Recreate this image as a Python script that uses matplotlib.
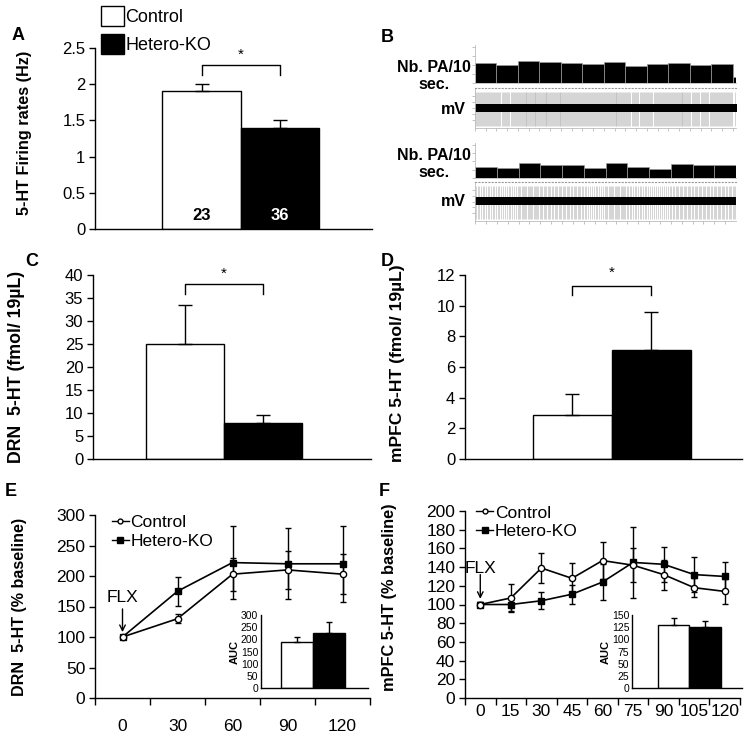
import numpy as np
import matplotlib
matplotlib.use("Agg")
import matplotlib.pyplot as plt
from matplotlib.patches import Patch
from matplotlib.lines import Line2D

plt.rcParams['font.family'] = ['Liberation Sans', 'DejaVu Sans']
plt.rcParams['axes.linewidth'] = 1.0

# ---------------- data ----------------
groups = ["Control", "Hetero-KO"]
bar_colors = ["white", "black"]

# A: firing rates
a_means = [1.9, 1.4]
a_sem = [0.1, 0.1]
a_n = ["23", "36"]
a_ticks = [0, 0.5, 1, 1.5, 2, 2.5]
a_tick_labels = ["0", "0.5", "1", "1.5", "2", "2.5"]

# B: spike counts per 10 s bin (two example neurons)
b_top_counts = [21.7, 19.4, 23.9, 22.8, 21.7, 20.6, 22.8, 18.7, 20.6, 21.7, 19.4, 20.6, 6.2]
b_bot_counts = [13.3, 12.2, 17.5, 15.6, 15.6, 12.2, 17.5, 13.3, 11.0, 16.4, 15.6, 15.6]

# C: DRN 5-HT
c_means = [25.0, 7.8]
c_sem = [8.5, 1.8]
c_ticks = [0, 5, 10, 15, 20, 25, 30, 35, 40]

# D: mPFC 5-HT
d_means = [2.85, 7.1]
d_sem = [1.4, 2.5]
d_ticks = [0, 2, 4, 6, 8, 10, 12]

# E: DRN time course
e_times = ["0", "30", "60", "90", "120"]
e_ctrl = [100, 130, 203, 210, 203]
e_ctrl_sem = [3, 7, 27, 31, 33]
e_ko = [100, 175, 222, 220, 220]
e_ko_sem = [4, 24, 60, 58, 62]
e_ticks = [0, 50, 100, 150, 200, 250, 300]
e_auc = [187, 228]
e_auc_sem = [23, 42]
e_auc_ticks = [0, 50, 100, 150, 200, 250, 300]

# F: mPFC time course
f_times = ["0", "15", "30", "45", "60", "75", "90", "105", "120"]
f_ctrl = [100, 107, 139, 128, 147, 142, 132, 118, 114]
f_ctrl_sem = [3, 15, 16, 16, 20, 18, 16, 10, 13]
f_ko = [100, 100, 104, 111, 124, 145, 143, 132, 130]
f_ko_sem = [3, 7, 9, 10, 19, 38, 19, 19, 15]
f_ticks = [0, 20, 40, 60, 80, 100, 120, 140, 160, 180, 200]
f_auc = [129, 125]
f_auc_sem = [14, 13]
f_auc_ticks = [0, 25, 50, 75, 100, 125, 150]

W, H = 751, 735
fig = plt.figure(figsize=(W / 100, H / 100), dpi=100)


def px_axes(left, top, right, bottom):
    # axes from pixel box of the reference
    return fig.add_axes([left / W, 1 - bottom / H, (right - left) / W, (bottom - top) / H])


def bar_panel(ax, means, sem, ticks, tick_labels, ylabel, xlim, label_x, label_y=0.5,
              fs=12, lfs=11, capsize=5):
    x = np.arange(len(means))
    ax.bar(x, means, width=1.0, color=bar_colors, edgecolor="black", linewidth=1.0, zorder=2)
    ax.errorbar(x, means, yerr=[np.zeros(len(sem)), sem], fmt="none", ecolor="black",
                elinewidth=1.0, capsize=capsize, capthick=1.0, zorder=3)
    ax.set_xlim(*xlim)
    ax.set_ylim(ticks[0], ticks[-1])
    ax.set_yticks(ticks)
    if tick_labels is not None:
        ax.set_yticklabels(tick_labels)
    ax.set_xticks([])
    ax.spines["top"].set_visible(False)
    ax.spines["right"].set_visible(False)
    ax.tick_params(axis="y", direction="out", length=4, width=1, labelsize=fs, pad=3)
    if ylabel:
        ax.set_ylabel(ylabel, fontsize=lfs, fontweight="bold")
        ax.yaxis.set_label_coords(label_x, label_y)


def bracket(ax, top, drop, star_y):
    ax.plot([0, 0, 1, 1], [drop, top, top, drop], color="black", lw=1.0, clip_on=False)
    ax.text(0.5, star_y, "*", ha="center", va="center", fontsize=11, clip_on=False)


# ---------------- A ----------------
axA = px_axes(95, 48, 372, 229)
bar_panel(axA, a_means, a_sem, a_ticks, a_tick_labels, "5-HT Firing rates (Hz)",
          (-1.36, 2.17), -0.227, 0.53, lfs=11.7)
bracket(axA, 2.27, 2.13, 2.40)
for i, (lab, c) in enumerate(zip(a_n, ["black", "white"])):
    axA.text(i, 0.19, lab, ha="center", va="center", color=c, fontsize=12,
             fontweight="bold", zorder=4)

leg = fig.legend(handles=[Patch(facecolor=c, edgecolor="black", linewidth=1.0, label=g)
                          for g, c in zip(groups, bar_colors)],
                 loc="upper left", bbox_to_anchor=(101 / W, 1 - 6 / H), frameon=False,
                 fontsize=13, handlelength=1.3, handleheight=1.3, handletextpad=0.05,
                 labelspacing=0.45, borderpad=0, borderaxespad=0)


# ---------------- B ----------------
def spike_trace(ax, counts, xmax):
    n_bins = len(counts)
    for i, c in enumerate(counts):
        n = int(round(c))
        pos = i - 0.5 + (np.arange(n) + 0.5) / n
        ax.vlines(pos, -0.9, 0.82, color="#b5b5b5", lw=0.4, zorder=1)
    ax.fill_between([-0.5, n_bins - 0.5], -0.18, 0.22, color="black", lw=0, zorder=2)
    ax.set_xlim(-0.5, xmax)
    ax.set_ylim(-1, 1)
    ax.set_yticks([-0.6, -0.3, 0, 0.3, 0.6])
    ax.set_xticks(np.arange(-0.5, xmax, 0.5))
    ax.tick_params(length=2, width=0.5, colors="#aaaaaa", labelleft=False, labelbottom=False)
    for s in ["left", "bottom"]:
        ax.spines[s].set_color("#bbbbbb")
        ax.spines[s].set_linewidth(0.6)
    ax.spines["right"].set_visible(False)
    ax.spines["top"].set_linestyle((0, (1, 2)))
    ax.spines["top"].set_color("#999999")
    ax.spines["top"].set_linewidth(0.8)


def count_bars(ax, counts, xmax):
    x = np.arange(len(counts))
    ax.bar(x, counts, width=1.0, color="black", edgecolor="#9a9a9a", linewidth=0.5)
    ax.set_xlim(-0.5, xmax)
    ax.set_ylim(0, 42)
    ax.set_yticks([0, 10, 20, 30, 40])
    ax.set_xticks([])
    ax.tick_params(length=2, width=0.5, colors="#aaaaaa", labelleft=False)
    ax.spines["left"].set_color("#bbbbbb")
    ax.spines["left"].set_linewidth(0.6)
    ax.spines["bottom"].set_color("#bbbbbb")
    ax.spines["bottom"].set_linewidth(0.6)
    ax.spines["top"].set_visible(False)
    ax.spines["right"].set_visible(False)


axB1 = px_axes(475, 45, 736, 83)
count_bars(axB1, b_top_counts, 11.65)
axB2 = px_axes(475, 88, 736, 128)
spike_trace(axB2, b_top_counts, 11.65)
axB3 = px_axes(475, 143, 736, 178)
count_bars(axB3, b_bot_counts, 11.5)
axB4 = px_axes(475, 182, 736, 221)
spike_trace(axB4, b_bot_counts, 11.5)

for yc, ym in [(76, 110), (164, 202)]:
    fig.text(434 / W, 1 - yc / H, "Nb. PA/10\nsec.", ha="center", va="center",
             multialignment="center", fontsize=11.5, fontweight="bold", linespacing=1.2)
    fig.text(466 / W, 1 - ym / H, "mV", ha="right", va="center", fontsize=11.5,
             fontweight="bold")

# ---------------- C ----------------
axC = px_axes(93, 275, 371, 459)
bar_panel(axC, c_means, c_sem, c_ticks, None, "DRN  5-HT (fmol/ 19µL)",
          (-1.18, 2.39), -0.245, 0.5, lfs=12.8)
bracket(axC, 38.0, 35.9, 40.3)

# ---------------- D ----------------
axD = px_axes(465, 275, 742, 459)
bar_panel(axD, d_means, d_sem, d_ticks, None, "mPFC 5-HT (fmol/ 19µL)",
          (-1.36, 2.15), -0.217, 0.52, lfs=12.6)
bracket(axD, 11.3, 10.7, 12.15)


# ---------------- E / F ----------------
def time_panel(ax, times, ctrl, ctrl_sem, ko, ko_sem, ticks, ylabel, label_x, label_y,
               lfs, xpad, flx_text, flx_tail, flx_head, leg_anchor):
    x = np.arange(len(times))
    ax.errorbar(x, ko, yerr=ko_sem, color="black", lw=1.2, marker="s", ms=5,
                mfc="black", mec="black", elinewidth=1.0, capsize=2.5, capthick=1.0,
                label="Hetero-KO", zorder=3)
    ax.errorbar(x, ctrl, yerr=ctrl_sem, color="black", lw=1.2, marker="o", ms=4.5,
                mfc="white", mec="black", mew=1.0, elinewidth=1.0, capsize=2.5,
                capthick=1.0, label="Control", zorder=4)
    ax.set_xlim(-0.5, len(times) - 0.5)
    ax.set_ylim(ticks[0], ticks[-1])
    ax.set_yticks(ticks)
    ax.set_xticks(x)
    ax.set_xticklabels(times)
    ax.set_xticks(np.arange(len(times) + 1) - 0.5, minor=True)
    ax.tick_params(axis="x", which="major", length=0, labelsize=12.5, pad=xpad)
    ax.tick_params(axis="x", which="minor", direction="out", length=5, width=1)
    ax.tick_params(axis="y", direction="out", length=4, width=1, labelsize=12.5, pad=3)
    ax.spines["top"].set_visible(False)
    ax.spines["right"].set_visible(False)
    ax.set_ylabel(ylabel, fontsize=lfs, fontweight="bold")
    ax.yaxis.set_label_coords(label_x, label_y)
    ax.text(0, flx_text, "FLX", ha="center", va="center", fontsize=12.5)
    ax.annotate("", xy=(0, flx_head), xytext=(0, flx_tail),
                arrowprops=dict(arrowstyle="->", color="black", lw=1.0,
                                shrinkA=0, shrinkB=0, mutation_scale=10))
    handles = [Line2D([], [], color="black", lw=1.0, marker="o", ms=3.5, mfc="white",
                      mec="black", label="Control"),
               Line2D([], [], color="black", lw=1.0, marker="s", ms=4, mfc="black",
                      mec="black", label="Hetero-KO")]
    ax.legend(handles=handles, loc="upper left", bbox_to_anchor=leg_anchor, frameon=False,
              fontsize=12.5, handlelength=1.0, handletextpad=0.1, labelspacing=0.2,
              borderpad=0, borderaxespad=0)


def auc_inset(ax, means, sem, ticks, xlim):
    x = np.arange(len(means))
    ax.bar(x, means, width=1.0, color=bar_colors, edgecolor="black", linewidth=1.0)
    ax.errorbar(x, means, yerr=[np.zeros(len(sem)), sem], fmt="none", ecolor="black",
                elinewidth=1.0, capsize=2.5, capthick=1.0)
    ax.set_xlim(*xlim)
    ax.set_ylim(ticks[0], ticks[-1])
    ax.set_yticks(ticks)
    ax.set_xticks([])
    ax.tick_params(axis="y", length=0, labelsize=7.5, pad=2)
    ax.spines["top"].set_visible(False)
    ax.spines["right"].set_visible(False)
    ax.patch.set_alpha(0)
    ax.set_ylabel("AUC", fontsize=8, fontweight="bold", labelpad=1)


axE = px_axes(95, 515, 370, 698)
time_panel(axE, e_times, e_ctrl, e_ctrl_sem, e_ko, e_ko_sem, e_ticks,
           "DRN  5-HT (% baseline)", -0.247, 0.5, 11.6, 15, 164, 146, 108,
           (0.06, 1.0))
axEi = px_axes(261, 615, 368, 688)
auc_inset(axEi, e_auc, e_auc_sem, e_auc_ticks, (-1.11, 2.2))

axF = px_axes(465, 511, 740, 698)
time_panel(axF, f_times, f_ctrl, f_ctrl_sem, f_ko, f_ko_sem, f_ticks,
           "mPFC 5-HT (% baseline)", -0.247, 0.54, 11.8, 4, 139, 132, 106,
           (0.04, 1.03))
axFi = px_axes(632, 615, 742, 688)
auc_inset(axFi, f_auc, f_auc_sem, f_auc_ticks, (-1.31, 2.16))

# panel letters
for lab, xl, yt in [("A", 18, 36), ("B", 387, 37), ("C", 32, 261), ("D", 387, 261),
                    ("E", 11, 492), ("F", 384, 492)]:
    fig.text(xl / W, 1 - yt / H, lab, ha="center", va="center", fontsize=13,
             fontweight="bold")

fig.savefig("out.png", dpi=100)
